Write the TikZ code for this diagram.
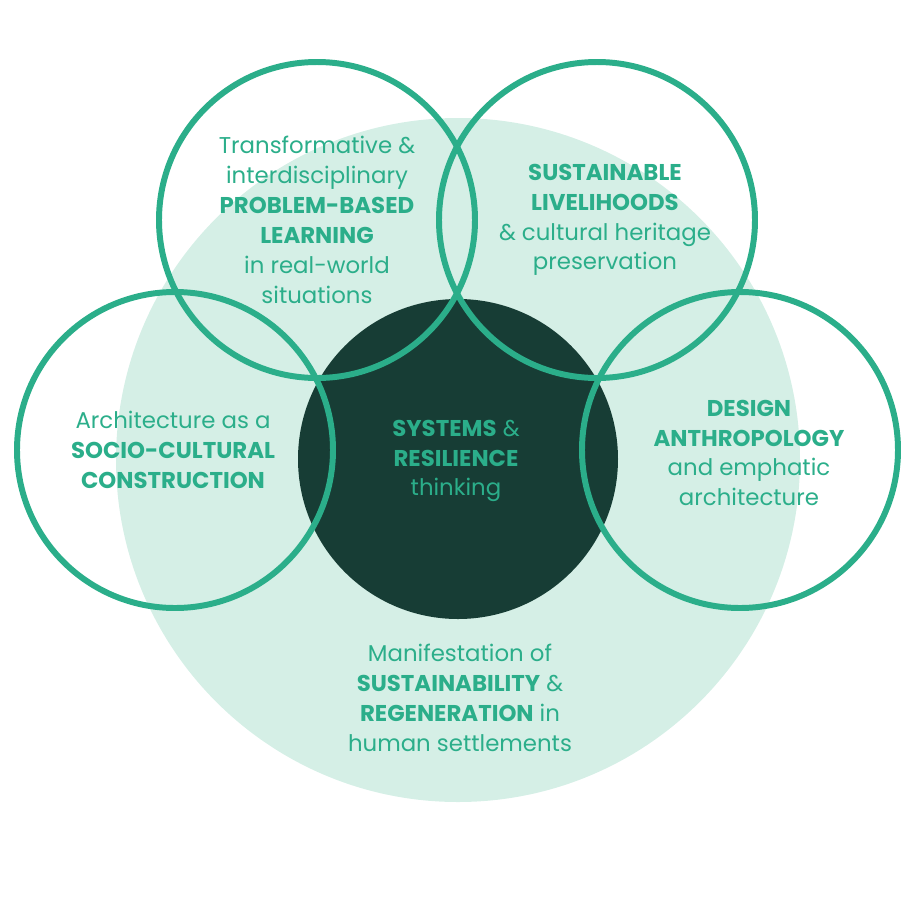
\documentclass[tikz,border=0pt]{standalone}
\usepackage{fontspec}
\setmainfont{Poppins}
\definecolor{ringgreen}{HTML}{2BAE8A}
\definecolor{palegreen}{HTML}{D5EFE6}
\definecolor{deepgreen}{HTML}{173D35}
\begin{document}
\begin{tikzpicture}[
    x=0.02cm, y=-0.02cm,
    ring/.style={draw=ringgreen, line width=3.4pt},
    label/.style={text=ringgreen, align=center, font=\fontsize{13}{17}\selectfont},
    ]
    \useasboundingbox (0,0) rectangle (914,914);
    % Grosser Kreis
    \fill[palegreen] (458,460) circle (342);
    % Zentrum
    \fill[deepgreen] (458,459) circle (160);
    % Ringe
    \draw[ring] (317,220) circle (158);
    \draw[ring] (597,220) circle (158);
    \draw[ring] (175,450) circle (158);
    \draw[ring] (740,450) circle (158);

    % Texte
    \node[label] (learning) at (317,220) {Transformative \&\\interdisciplinary\\\textbf{PROBLEM-BASED}\\\textbf{LEARNING}\\in real-world\\situations};
    \node[label] (livelihood) at (605,220) {\textbf{SUSTAINABLE}\\\textbf{LIVELIHOODS}\\\& cultural heritage\\preservation};
    \node[label] (culture) at (173,450) {Architecture as a\\\textbf{SOCIO-CULTURAL}\\\textbf{CONSTRUCTION}};
    \node[label] (anthro) at (749,453) {\textbf{DESIGN}\\\textbf{ANTHROPOLOGY}\\and emphatic\\architecture};
    \node[label] (systems) at (456,461) {\textbf{SYSTEMS} \&\\\textbf{RESILIENCE}\\thinking};
    \node[label] (regen) at (460,698) {Manifestation of\\\textbf{SUSTAINABILITY} \&\\\textbf{REGENERATION} in\\human settlements};
\end{tikzpicture}
\end{document}
